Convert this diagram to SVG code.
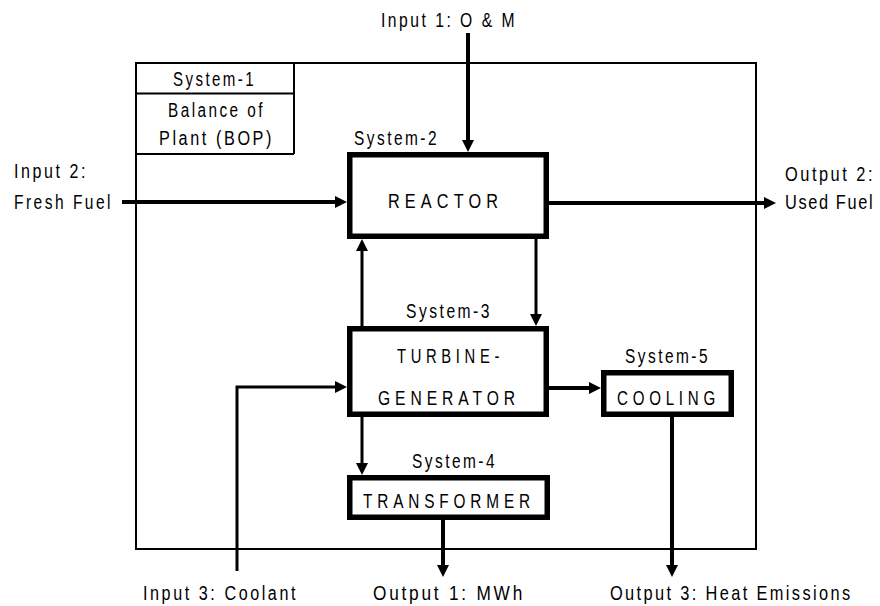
<svg xmlns="http://www.w3.org/2000/svg" width="880" height="606" viewBox="0 0 880 606">
<style>
text{font-family:"Liberation Sans",Arial,sans-serif;font-size:20px;fill:#000;letter-spacing:3.2px}
text.b{letter-spacing:6.3px}
.thin{fill:none;stroke:#000;stroke-width:2}
.box{fill:#fff;stroke:#000;stroke-width:5.5}
.c{fill:none;stroke:#000;stroke-width:4;marker-end:url(#ah)}
.c3{fill:none;stroke:#000;stroke-width:3;marker-end:url(#ah)}
</style>
<defs>
<marker id="ah" markerUnits="userSpaceOnUse" viewBox="0 0 12 12" refX="4" refY="6" markerWidth="12" markerHeight="12" orient="auto">
<path d="M0,0 L12,6 L0,12 z" fill="#000"/>
</marker>
</defs>
<rect width="880" height="606" fill="#fff"/>
<g id="system1">
<rect class="thin" x="136" y="63" width="620" height="486"/>
<path class="thin" d="M136,93.5 H294 M294,63 V154 M136,154 H294"/>
<text x="173" y="86" textLength="83" lengthAdjust="spacingAndGlyphs">System-1</text>
<text x="168" y="117" textLength="97" lengthAdjust="spacingAndGlyphs">Balance of</text>
<text x="159" y="145" textLength="115" lengthAdjust="spacingAndGlyphs">Plant (BOP)</text>
</g>
<g id="connectors">
<path class="c" d="M468,33 V144"/>
<path class="c" d="M122,202 H339"/>
<path class="c" d="M549,203 H768"/>
<path class="c3" d="M536,239 V318"/>
<path class="c3" d="M362,326 V247"/>
<path class="c3" d="M237,571 V387 H339"/>
<path class="c" d="M549,388 H593"/>
<path class="c3" d="M362,417 V467"/>
<path class="c" d="M443,520 V569"/>
<path class="c" d="M672,417 V569"/>
</g>
<g id="reactor">
<rect class="box" x="349.75" y="154.75" width="196.5" height="81.5"/>
<text x="354" y="145" textLength="85" lengthAdjust="spacingAndGlyphs">System-2</text>
<text class="b" x="388" y="208" textLength="115" lengthAdjust="spacingAndGlyphs">REACTOR</text>
</g>
<g id="turbine">
<rect class="box" x="349.75" y="328.75" width="196.5" height="85.5"/>
<text x="406" y="318" textLength="86" lengthAdjust="spacingAndGlyphs">System-3</text>
<text class="b" x="397" y="363" textLength="107" lengthAdjust="spacingAndGlyphs">TURBINE-</text>
<text class="b" x="378" y="405" textLength="142" lengthAdjust="spacingAndGlyphs">GENERATOR</text>
</g>
<g id="cooling">
<rect class="box" x="603.75" y="372.75" width="127.5" height="41.5"/>
<text x="625" y="363" textLength="85" lengthAdjust="spacingAndGlyphs">System-5</text>
<text class="b" x="617" y="405" textLength="103" lengthAdjust="spacingAndGlyphs">COOLING</text>
</g>
<g id="transformer">
<rect class="box" x="349.75" y="477.75" width="197.5" height="39.5"/>
<text x="412" y="468" textLength="85" lengthAdjust="spacingAndGlyphs">System-4</text>
<text class="b" x="363" y="508" textLength="172" lengthAdjust="spacingAndGlyphs">TRANSFORMER</text>
</g>
<g id="input1">
<text x="381" y="27" textLength="136" lengthAdjust="spacingAndGlyphs">Input 1: O &amp; M</text>
</g>
<g id="input2">
<text x="14" y="178" textLength="74" lengthAdjust="spacingAndGlyphs">Input 2:</text>
<text x="14" y="209" textLength="99" lengthAdjust="spacingAndGlyphs">Fresh Fuel</text>
</g>
<g id="output2">
<text transform="translate(785,181) scale(0.82,1)" textLength="110" lengthAdjust="spacing">Output 2:</text>
<text transform="translate(785,209) scale(0.82,1)" textLength="110" lengthAdjust="spacing">Used Fuel</text>
</g>
<g id="input3">
<text x="143" y="600" textLength="155" lengthAdjust="spacingAndGlyphs">Input 3: Coolant</text>
</g>
<g id="output1">
<text x="373" y="600" textLength="152" lengthAdjust="spacingAndGlyphs">Output 1: MWh</text>
</g>
<g id="output3">
<text transform="translate(610,600) scale(0.82,1)" textLength="296" lengthAdjust="spacing">Output 3: Heat Emissions</text>
</g>
</svg>
